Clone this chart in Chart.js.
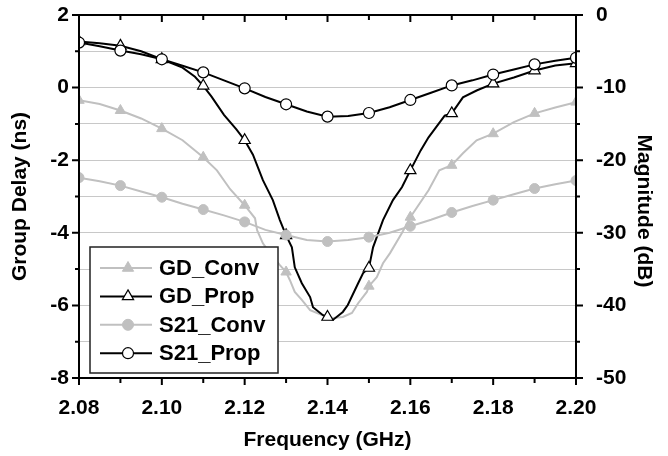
<!DOCTYPE html>
<html>
<head>
<meta charset="utf-8">
<script src="https://cdn.jsdelivr.net/npm/chart.js@4.4.1/dist/chart.umd.min.js"></script>
<style>
  body { margin: 0; background: #fff; }
  #wrap { width: 668px; height: 456px; }
</style>
</head>
<body>
<div id="wrap"><canvas id="chart-area" width="668" height="456"></canvas></div>
<script>
// group delay, conventional (ns)
var gdConvFreq = [2.080, 2.085, 2.090, 2.095, 2.100, 2.105, 2.110, 2.1133, 2.1165, 2.120, 2.1225, 2.123, 2.1244, 2.1261, 2.1285, 2.130,
                  2.1309, 2.1321, 2.1338, 2.1358, 2.1375, 2.140, 2.1413, 2.1437, 2.1459, 2.1474, 2.1495, 2.150, 2.1519, 2.1534,
                  2.1551, 2.158, 2.160, 2.1644, 2.167, 2.170, 2.1727, 2.176, 2.180, 2.185, 2.190, 2.195, 2.200];
var gdConv = [-0.35, -0.45, -0.63, -0.85, -1.13, -1.45, -1.92, -2.28, -2.80, -3.24, -3.60, -3.93, -4.29, -4.56, -4.89, -5.08,
              -5.30, -5.63, -5.85, -6.13, -6.21, -6.32, -6.35, -6.32, -6.21, -5.94, -5.63, -5.47, -5.22, -4.84,
              -4.56, -4.00, -3.57, -2.83, -2.28, -2.14, -1.81, -1.45, -1.27, -0.95, -0.71, -0.55, -0.40];

// group delay, proposed (ns)
var gdPropFreq = [2.080, 2.085, 2.090, 2.095, 2.100, 2.105, 2.108, 2.110, 2.112, 2.115, 2.118, 2.120, 2.122, 2.1244, 2.1268, 2.1285,
                  2.130, 2.1314, 2.1321, 2.1338, 2.1358, 2.1365, 2.1389, 2.140, 2.1413, 2.1437, 2.1449, 2.1474, 2.1486, 2.150,
                  2.151, 2.1519, 2.1534, 2.1558, 2.158, 2.160, 2.1625, 2.1644, 2.1683, 2.170, 2.1727, 2.176, 2.180, 2.185,
                  2.190, 2.195, 2.200];
var gdProp = [1.27, 1.22, 1.15, 1.00, 0.78, 0.55, 0.30, 0.05, -0.25, -0.75, -1.15, -1.45, -1.85, -2.55, -3.10, -3.65,
              -4.07, -4.40, -4.95, -5.39, -5.77, -6.05, -6.27, -6.32, -6.40, -6.18, -5.99, -5.39, -5.11, -4.97,
              -4.40, -4.12, -3.65, -3.10, -2.74, -2.28, -1.73, -1.37, -0.77, -0.71, -0.27, -0.08, 0.11, 0.28,
              0.47, 0.61, 0.67];

// |S21|, conventional (dB)
var s21ConvFreq = [2.080, 2.085, 2.090, 2.095, 2.100, 2.105, 2.110, 2.115, 2.120, 2.125, 2.130, 2.135, 2.140, 2.145, 2.150,
                   2.155, 2.160, 2.165, 2.170, 2.175, 2.180, 2.185, 2.190, 2.195, 2.200];
var s21Conv = [-22.4, -22.9, -23.5, -24.3, -25.1, -26.0, -26.8, -27.6, -28.5, -29.6, -30.3, -31.0, -31.2, -31.0, -30.6,
               -30.0, -29.1, -28.2, -27.2, -26.3, -25.5, -24.7, -23.9, -23.3, -22.8];

// |S21|, proposed (dB)
var s21PropFreq = s21ConvFreq;
var s21Prop = [-3.8, -4.3, -4.9, -5.4, -6.1, -7.0, -7.9, -9.0, -10.1, -11.3, -12.3, -13.3, -14.0, -13.9, -13.5,
               -12.7, -11.7, -10.7, -9.7, -9.0, -8.2, -7.5, -6.8, -6.3, -5.9];

var GRAY = 'rgb(192, 192, 192)';
var FONT = "'Liberation Sans', Arial, sans-serif";

function pts(xs, ys) {
    return xs.map(function(x, i) { return {x: x, y: ys[i]}; });
}

// markers only every 10 MHz
function markAt(r) {
    return function(ctx) {
        var x = ctx.raw ? ctx.raw.x : 0;
        var k = x * 100;
        return Math.abs(k - Math.round(k)) < 1e-6 ? r : 0;
    };
}

var series = [
    {label: 'GD_Conv', data: pts(gdConvFreq, gdConv), yAxisID: 'yL', borderColor: GRAY, pointStyle: 'triangle',
     pointBackgroundColor: GRAY, pointBorderColor: GRAY, pointBorderWidth: 1, pointRadius: markAt(6), order: 4},
    {label: 'GD_Prop', data: pts(gdPropFreq, gdProp), yAxisID: 'yL', borderColor: '#000', pointStyle: 'triangle',
     pointBackgroundColor: '#fff', pointBorderColor: '#000', pointBorderWidth: 1.2, pointRadius: markAt(6.5), order: 3},
    {label: 'S21_Conv', data: pts(s21ConvFreq, s21Conv), yAxisID: 'yR', borderColor: GRAY, pointStyle: 'circle',
     pointBackgroundColor: GRAY, pointBorderColor: GRAY, pointBorderWidth: 1, pointRadius: markAt(5), order: 2},
    {label: 'S21_Prop', data: pts(s21PropFreq, s21Prop), yAxisID: 'yR', borderColor: '#000', pointStyle: 'circle',
     pointBackgroundColor: '#fff', pointBorderColor: '#000', pointBorderWidth: 1.2, pointRadius: markAt(5.5), order: 1}
];
series.forEach(function(s) { s.borderWidth = 2; s.tension = 0; s.pointHoverRadius = 0; });

var frame = {
    id: 'frame',
    afterDraw: function(chart) {
        var c = chart.ctx, a = chart.chartArea;
        var sx = chart.scales.x, sl = chart.scales.yL, sr = chart.scales.yR;
        c.save();
        c.strokeStyle = '#000';
        c.lineWidth = 2;
        c.strokeRect(a.left, a.top, a.right - a.left, a.bottom - a.top);
        c.beginPath();
        var v, y, x, len;
        for (v = -8; v <= 2; v++) {
            y = sl.getPixelForValue(v);
            len = v % 2 === 0 ? 7 : 4;
            c.moveTo(a.left - len, y); c.lineTo(a.left, y);
        }
        for (v = -50; v <= 0; v += 5) {
            y = sr.getPixelForValue(v);
            len = v % 10 === 0 ? 7 : 4;
            c.moveTo(a.right, y); c.lineTo(a.right + len, y);
        }
        for (var i = 0; i <= 12; i++) {
            x = sx.getPixelForValue(2.08 + i * 0.01);
            len = i % 2 === 0 ? 7 : 5;
            c.moveTo(x, a.bottom); c.lineTo(x, a.bottom + len);
            c.moveTo(x, a.top); c.lineTo(x, a.top + (i % 2 === 0 ? 7 : 5));
        }
        c.stroke();

        // right axis title
        c.fillStyle = '#000';
        c.font = 'bold 21px ' + FONT;
        c.textAlign = 'center';
        c.textBaseline = 'middle';
        c.translate(644, 211);
        c.rotate(Math.PI / 2);
        c.fillText('Magnitude (dB)', 0, 0);
        c.restore();

        // legend
        c.save();
        c.fillStyle = '#fff';
        c.fillRect(90, 247, 188, 126);
        c.strokeStyle = '#222';
        c.lineWidth = 1.5;
        c.strokeRect(90, 247, 188, 126);
        series.forEach(function(s, k) {
            var ly = 268 + k * 28.4;
            c.strokeStyle = s.borderColor;
            c.lineWidth = 2;
            c.beginPath(); c.moveTo(100, ly); c.lineTo(152, ly); c.stroke();
            c.fillStyle = s.pointBackgroundColor;
            c.strokeStyle = s.pointBorderColor;
            c.lineWidth = s.pointBorderWidth;
            Chart.helpers.drawPoint(c, {pointStyle: s.pointStyle, radius: s.pointStyle === 'triangle' ? 6.5 : 5.5,
                rotation: 0, borderWidth: s.pointBorderWidth}, 128, ly);
            c.fillStyle = '#000';
            c.font = 'bold 22px ' + FONT;
            c.textAlign = 'left';
            c.textBaseline = 'middle';
            c.fillText(s.label, 159, ly + 1);
        });
        c.restore();
    }
};

function fitY(w) {
    return function(s) { s.width = w; s.paddingTop = 0; s.paddingBottom = 0; };
}

var config = {
    type: 'line',
    data: { datasets: series },
    options: {
        responsive: false,
        animation: false,
        events: [],
        layout: { padding: { top: 15 } },
        plugins: { legend: { display: false }, tooltip: { enabled: false } },
        scales: {
            x: {
                type: 'linear', min: 2.08, max: 2.20,
                afterFit: function(s) { s.height = 78; },
                grid: { display: false },
                border: { display: false },
                ticks: {
                    stepSize: 0.01, padding: 10, color: '#000', maxRotation: 0, autoSkip: false,
                    font: { family: FONT, size: 21, weight: 'bold' },
                    callback: function(v) { return Math.round(v * 100) % 2 === 0 ? v.toFixed(2) : ''; }
                },
                title: { display: true, text: 'Frequency (GHz)', color: '#000', padding: { bottom: 3 },
                         font: { family: FONT, size: 21, weight: 'bold' } }
            },
            yL: {
                type: 'linear', position: 'left', min: -8, max: 2,
                afterFit: fitY(79),
                grid: { color: 'rgb(200, 200, 200)', lineWidth: 1, drawTicks: false },
                border: { display: false },
                ticks: {
                    stepSize: 1, padding: 10, color: '#000',
                    font: { family: FONT, size: 21, weight: 'bold' },
                    callback: function(v) { return v % 2 === 0 ? String(v) : ''; }
                },
                title: { display: true, text: 'Group Delay (ns)', color: '#000', padding: { top: 8 },
                         font: { family: FONT, size: 21, weight: 'bold' } }
            },
            yR: {
                type: 'linear', position: 'right', min: -50, max: 0,
                afterFit: fitY(92),
                grid: { display: false },
                border: { display: false },
                ticks: {
                    stepSize: 5, padding: 12, color: '#000',
                    font: { family: FONT, size: 21, weight: 'bold' },
                    callback: function(v) { return v % 10 === 0 ? String(v) : ''; }
                }
            }
        }
    },
    plugins: [frame]
};

window.onload = function() {
    var ctx = document.getElementById('chart-area').getContext('2d');
    new Chart(ctx, config);
};
</script>
</body>
</html>
